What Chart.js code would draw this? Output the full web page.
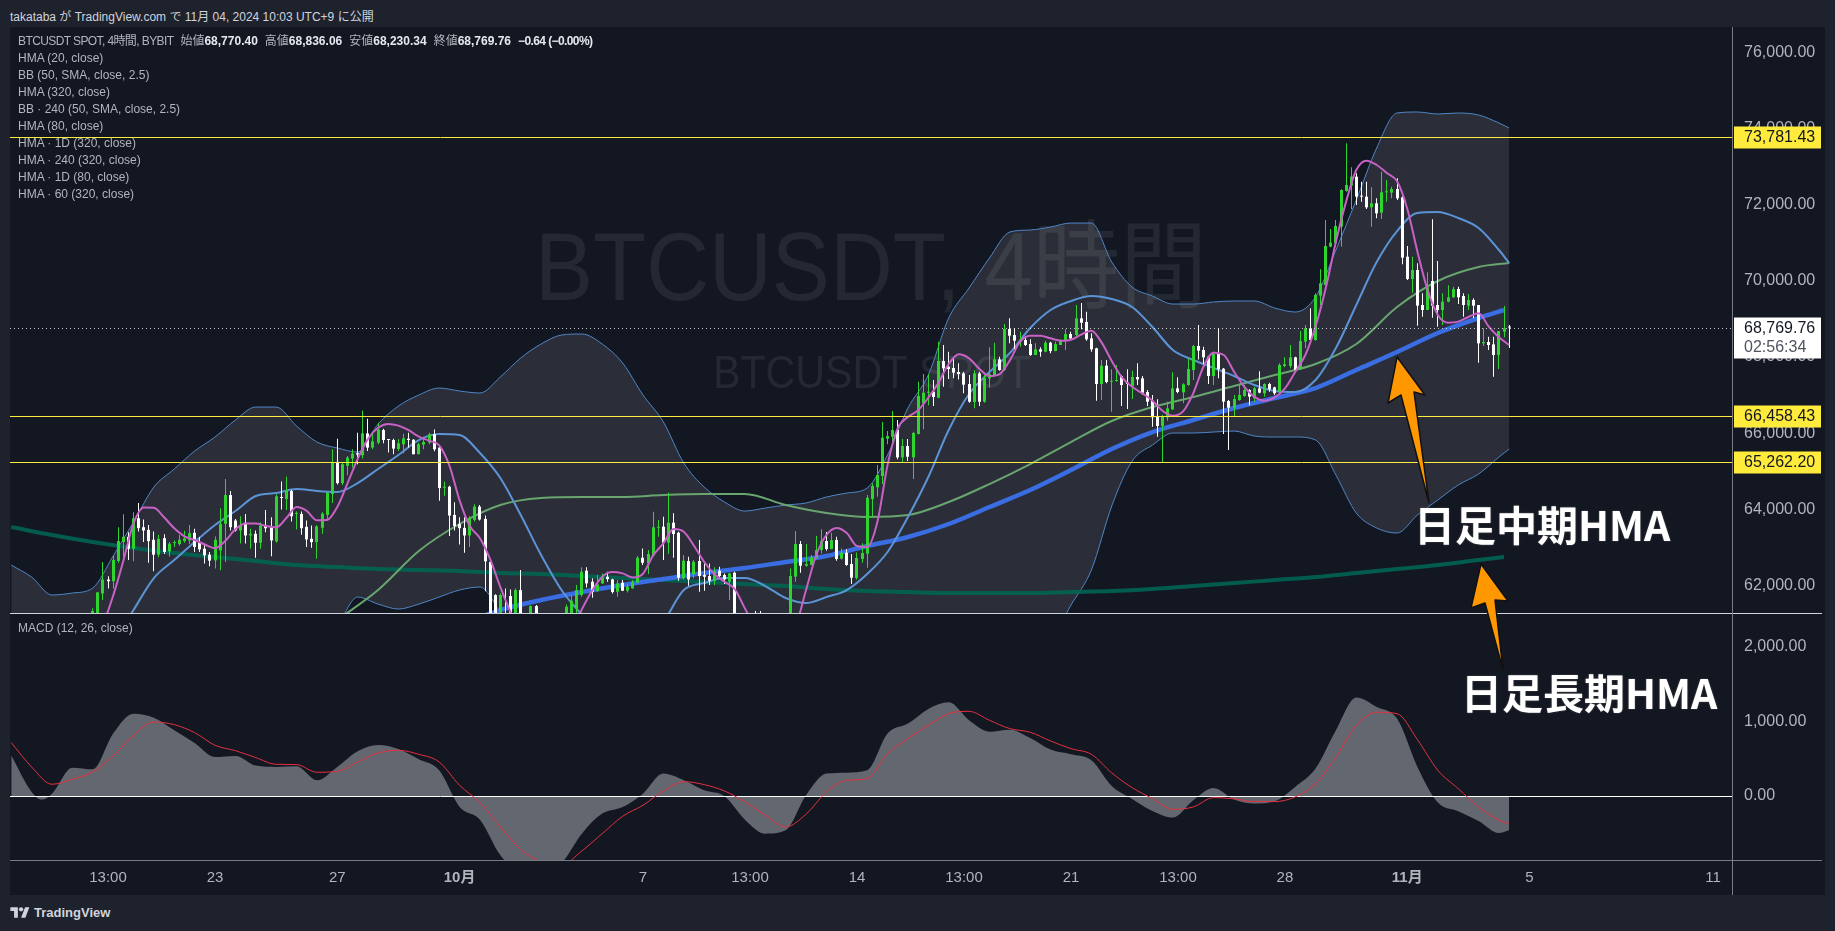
<!DOCTYPE html>
<html lang="ja">
<head>
<meta charset="utf-8">
<title>BTCUSDT 4時間</title>
<script src="https://cdn.jsdelivr.net/npm/chart.js@4/dist/chart.umd.js"></script>
<style>
  html, body { margin: 0; height: 100%; background: #1e222d; overflow: hidden; }
  body { font-family: "Liberation Sans", "Noto Sans CJK JP", sans-serif; color: #b2b5be; }
  #published { position: absolute; left: 10px; top: 7px; font-size: 12px; color: #d1d4dc; }
  #chartBox { position: absolute; left: 10px; top: 27px; width: 1815px; height: 868px; background: #131722; }
  #legend { position: absolute; left: 18px; top: 33px; font-size: 12px; line-height: 17px; color: #b2b5be; }
  #legend b { color: #e6e8ee; }
  #legend span { margin-right: 7px; }
  #legend .symbol { letter-spacing: -0.6px; }
  #legend .change { letter-spacing: -0.6px; }
  .note { position: absolute; font-family: "Noto Sans CJK JP", sans-serif; font-weight: 700; font-size: 41px; color: #fff;
          line-height: 44px; text-shadow: 0 0 2px #555; white-space: nowrap; }
  #brand { position: absolute; left: 10px; top: 905px; font-size: 13px; font-weight: 700; color: #d1d4dc; display: flex; align-items: center; gap: 4px; }
</style>
</head>
<body>
<div id="published">takataba が TradingView.com で 11月 04, 2024 10:03 UTC+9 に公開</div>
<div id="chartBox"><canvas id="priceChart" width="1815" height="868"></canvas></div>
<div id="legend">
  <div><span class="symbol">BTCUSDT SPOT, 4時間, BYBIT</span><span>始値<b>68,770.40</b></span><span>高値<b>68,836.06</b></span><span>安値<b>68,230.34</b></span><span>終値<b>68,769.76</b></span><b class="change">−0.64 (−0.00%)</b></div>
  <div>HMA (20, close)</div>
  <div>BB (50, SMA, close, 2.5)</div>
  <div>HMA (320, close)</div>
  <div>BB · 240 (50, SMA, close, 2.5)</div>
  <div>HMA (80, close)</div>
  <div>HMA · 1D (320, close)</div>
  <div>HMA · 240 (320, close)</div>
  <div>HMA · 1D (80, close)</div>
  <div>HMA · 60 (320, close)</div>
</div>
<div id="macdLegend" style="position:absolute;left:18px;top:621px;font-size:12px;color:#b2b5be">MACD (12, 26, close)</div>
<div class="note" style="left:1414px;top:501px">日足中期HMA</div>
<div class="note" style="left:1461px;top:669px">日足長期HMA</div>
<div id="brand">
  <svg width="20" height="15" viewBox="0 0 36 28"><path fill="#d1d4dc" d="M14 24H7V11H0V4h14v20zM28 24h-8l7.5-20h8L28 24z"/><circle fill="#d1d4dc" cx="20" cy="8" r="4"/></svg>
  <span>TradingView</span>
</div>

<script>
// Bars are counted in 4h steps from 23 Sep (bar 0)
// Candles, first one is bar -24, rows of ten; null = body below the visible range
const candleStart = -24;
const opens = [
  61000,61100,61790,62156,62112,62643,63139,63278,62965,63765,
  63530,63461,63200,62808,63243,62895,63113,63087,63165,63183,
  63383,63122,62965,62808,62660,62921,63618,64374,63705,63444,
  63644,63313,63357,63122,63574,63530,63156,64314,64270,64479,
  63878,63878,63539,63226,63139,63513,63852,64400,65244,64688,
  65140,65331,65471,65418,65993,65619,65749,66080,65836,65819,
  65584,65706,65853,65827,65445,65697,65749,65975,65619,64566,
  64592,63852,63618,63513,63313,63722,64070,63748,62620,61749,
  61000,61100,61723,61000,61880,null,61000,61460,null,null,
  null,null,null,61000,61100,61399,61749,62388,62099,61854,
  62055,62230,62160,61837,62073,61863,61924,62073,62729,62580,
  62791,63517,63543,63123,63648,63385,62187,62642,62292,62642,
  62274,62248,62125,62388,62274,62099,62335,null,null,null,
  61000,61000,null,null,null,null,null,61000,62231,63088,
  62519,62537,62712,62931,63167,62957,63193,62703,62861,62563,
  62196,62694,62834,64269,64576,64873,65853,65906,66081,65363,
  65660,65363,65975,66780,67060,67087,66929,67892,67743,67708,
  67603,67568,67288,66816,67568,66824,67437,67524,67935,67656,
  68732,68574,68399,68443,68338,68049,68198,68137,68373,68154,
  68312,68426,68601,68574,69012,68916,68487,68224,67288,67769,
  67349,67367,67498,67323,67236,67472,67437,67078,66842,66448,
  66186,66413,66623,67174,67069,67262,67656,68286,68181,68006,
  67498,68076,67690,66842,66667,66868,66973,67130,66912,67175,
  67044,67288,67201,67087,67761,67761,67989,67674,68400,68750,
  68443,69607,69887,70894,70981,71419,72355,72495,72731,72224,
  72206,71926,72031,71786,72320,72311,72407,72189,70631,70045,
  70281,69362,69231,69992,69362,69231,69450,69564,69782,69599,
  69345,69494,69362,68356,68391,68330,68050,68662,68770.40
];
const highs = [
  61400,61820,62617,62243,62774,63530,63870,63400,63922,64166,
  63731,63591,63417,63330,63348,63139,63183,63330,63435,63591,
  63487,63270,63069,62878,63287,64026,64792,64479,63748,63818,
  63878,63487,63444,63661,63983,63792,64392,64731,64862,64514,
  63939,63939,63705,63574,63591,63922,64461,65575,65853,65227,
  65401,65575,66010,66593,66375,65993,66271,66114,65836,65853,
  65836,65984,66010,65836,65749,65906,66010,66097,65662,64731,
  64618,64183,63792,63792,63818,64131,64113,63835,62640,61767,
  61790,61924,61898,61924,62405,null,61480,61487,null,null,
  null,null,null,61500,61749,62012,62476,62476,62187,62274,
  62318,62362,62178,62143,62143,62038,62143,62773,62974,62931,
  63937,63718,63806,64444,63893,63412,62799,62756,62668,63193,
  62580,62580,62476,62493,62318,62335,62362,null,null,null,
  61330,61330,null,null,null,null,null,62449,63429,63167,
  63088,62799,63298,63473,63403,63386,63281,62974,62948,62826,
  62869,63106,64374,64681,65162,66290,66054,66579,66343,65844,
  65844,66037,67349,67550,67550,67393,68399,68312,68137,67962,
  67831,67612,67524,67656,67612,67524,68250,68373,68006,68863,
  69012,68749,68662,68548,68461,68356,68250,68426,68399,68399,
  68461,68723,68662,69362,69414,69187,68618,68242,67918,67918,
  67673,67787,67524,67673,67638,67831,67498,67130,66999,66886,
  66474,66824,67594,67463,67306,67962,68312,68837,68268,68023,
  68137,68749,67708,66868,66999,67262,67262,67148,67218,67621,
  67306,67323,67219,67831,67989,68312,68006,68680,68837,69275,
  69669,70299,71594,71357,71594,72399,73606,72976,72819,72600,
  72600,72451,72162,72862,72644,72469,72687,72224,70911,70631,
  70456,69669,70220,71611,70517,69669,69879,69844,69844,69669,
  69651,69537,69362,68750,68531,68531,68680,69336,68836.06
];
const lows = [
  60900,61000,61617,61921,61921,62600,62721,62669,62634,63417,
  63139,62600,62373,62739,62826,62756,63009,63052,63122,63087,
  62878,62878,62574,62504,62443,62400,62617,63444,63417,63104,
  63104,62965,62730,62965,63400,62765,63122,63992,63983,63678,
  63470,63330,63009,62991,62704,63357,63705,64166,64653,64635,
  64896,65097,65183,65331,65532,65575,65706,65732,65488,65445,
  65532,65471,65619,65445,65445,65575,65706,65523,64227,64357,
  63296,63444,63078,62861,63009,63678,63705,61851,60900,61000,
  60950,60800,60900,60950,60900,null,60900,60900,null,null,
  null,null,null,60900,61000,61268,61705,61950,61679,61837,
  62038,62099,61793,61705,61854,61819,61915,62055,62537,62300,
  62773,63280,62668,62826,62729,62125,62160,61994,62187,61837,
  61863,62012,62012,62187,62038,61618,60900,null,null,null,
  60800,60800,null,null,null,null,null,60900,62099,62336,
  62493,62537,62712,62843,62913,62948,62650,62685,62519,62038,
  62160,62598,62467,63788,64330,64663,65704,65704,65311,65232,
  65267,64794,65967,66098,66728,66711,66912,67218,67419,67437,
  67410,67043,66798,66649,66711,66798,67200,67498,67638,67638,
  68355,68198,68268,68286,68032,68049,68006,68119,68093,68145,
  68312,68181,68443,68548,68723,68426,68137,66851,66868,67306,
  66562,67349,66711,66632,66894,67262,66999,66711,66168,65906,
  65232,66326,66606,67043,66781,67244,67393,67935,67743,67288,
  67262,67437,65975,65555,66448,66851,66956,66728,66824,67044,
  66956,67087,67000,67044,67726,67700,67639,67656,68225,68426,
  68426,69362,69870,70876,70964,70894,72337,71874,71987,72075,
  71882,71419,71637,71620,72075,72162,72119,70430,70019,69686,
  68820,69056,69231,69030,68794,68837,69432,69555,69389,69056,
  69231,69012,67848,68286,68181,67481,67682,68514,68230.34
];
const closes = [
  61330,61820,62156,62112,62669,63165,63278,62965,63765,63504,
  63444,63165,62808,63226,62878,63096,63139,63200,63235,63374,
  63009,62948,62791,62652,63200,63618,64374,63530,63444,63591,
  63313,63357,63122,63574,63504,63183,64340,64296,64479,63818,
  63905,63504,63209,63139,63548,63887,64435,65244,64688,65183,
  65358,65462,65436,65993,65619,65784,66097,65819,65819,65592,
  65732,65862,65819,65445,65706,65766,65966,65575,64557,64583,
  63835,63557,63504,63313,63765,64070,63731,62634,61000,61100,
  61749,60900,61000,61880,61000,null,61460,61000,null,null,
  null,null,null,61443,61600,61880,62362,62055,61837,62029,
  62213,62169,61828,62055,61863,61968,62099,62729,62598,62826,
  63526,63534,63123,63648,63350,62204,62650,62160,62624,62248,
  62230,62125,62379,62248,62160,62318,61000,null,null,null,
  60900,60900,null,null,null,null,null,62248,63088,62519,
  62563,62738,62931,63167,62957,63193,62694,62861,62537,62204,
  62721,62852,64304,64611,64899,65879,65923,66081,65363,65660,
  65380,66002,66973,67060,67087,66947,67892,67699,67682,67586,
  67550,67271,66824,67568,66824,67454,67550,67935,67656,68732,
  68557,68425,68443,68312,68049,68198,68137,68373,68154,68338,
  68426,68601,68487,69012,68898,68461,68198,67288,67769,67340,
  67376,67393,67262,67288,67472,67410,67060,66824,66413,66186,
  66431,66649,67174,67078,67279,67682,68286,68163,67988,67498,
  68076,67673,66824,66667,66894,66999,67130,66956,67174,67061,
  67288,67149,67044,67787,67805,67989,67656,68417,68750,68443,
  69625,69931,70911,70999,71436,72381,72512,72731,72206,72206,
  71926,72031,71769,72320,72337,72407,72162,70605,70045,70281,
  69345,69231,69826,69345,69231,69450,69564,69782,69564,69362,
  69494,69345,68356,68391,68312,68050,68680,68750,68769.76
];

// HMA 20, every second bar from -22
const hmaFast = [
  60945,61730,62645,63630,64050,64040,63790,63500,63290,63195,
  63075,62980,63170,63475,63630,63630,63560,63525,63770,64060,
  63960,63710,63720,64060,64680,65325,65845,66140,66240,66195,
  66075,65910,65800,65680,65150,64235,63560,63240,62690,61960,
  61300,60700,60400,60200,60150,60300,60800,61373,61863,62230,
  62353,62318,62213,62309,62791,63105,63482,63412,63044,62624,
  62300,62099,61907,61400,60900,60500,60500,60700,60960,61880,
  62800,63325,63510,63375,63035,63010,63665,65160,66130,66420,
  66600,66929,67323,67813,68067,67962,67690,67498,67550,67909,
  68399,68557,68557,68487,68426,68452,68583,68688,68382,67892,
  67463,67218,67043,66851,66579,66457,66571,67043,67743,68111,
  68049,67612,67218,66950,66851,66939,67175,67604,68050,68794,
  69800,71025,72075,72906,73151,73037,72827,72608,71891,70762,
  69756,69100,68899,68925,69047,69144,68794,68514,68312
];

// Bollinger band, every fourth bar from -40, last one is bar 254
const bbUpper = [
  62537,62222,61750,61802,61933,62773,63666,64584,65057,65529,
  65897,66343,66684,66684,66186,65766,65608,65503,66238,66711,
  67000,67183,67105,67052,67472,67971,68338,68574,68601,68338,
  67840,67000,66291,65214,64584,64191,63954,64033,64112,64165,
  64322,64427,64558,65424,66658,67525,69021,69809,70596,71278,
  71331,71409,71514,71514,70491,69834,69598,69388,69388,69441,
  69467,69467,69283,69178,69572,70806,72118,73483,74402,74428,
  74376,74402,74349,74139,74008
];
const bbMiddle = [
  60000,59900,59800,59900,60100,60500,61356,62195,62668,63141,
  63588,63954,64348,64427,64532,64479,64453,64689,65057,65424,
  65818,65976,65950,65477,64821,63849,62799,61881,61225,60568,
  60175,60437,61040,61881,62065,62195,62195,61986,61671,61539,
  61697,61881,62301,62878,63797,64847,66081,67026,67603,68102,
  68758,69231,69467,69598,69519,69310,68784,68181,67918,67708,
  67498,67262,67105,67078,67393,68233,69362,70491,71304,71777,
  71803,71646,71383,70806,70464
];
const bbLower = [
  59800,59700,59600,59500,59400,59500,59600,59700,59800,59900,
  60000,60100,60200,60300,60400,60600,60966,61697,61512,61382,
  61512,61697,61881,61959,61303,60570,60200,60000,59900,59800,
  59800,59900,60000,60100,60100,60000,59900,59900,60000,60000,
  60100,60100,60100,60100,60000,60000,60000,60100,60200,60300,
  60400,60570,61487,62406,64086,65265,65686,66002,66002,66028,
  66054,65923,65897,65897,65818,64899,63902,63509,63377,63850,
  64244,64637,64926,65372,65582
];

// Slow averages, every eighth bar, last point at the end of the line
const hma80 = [
  61094,61881,62905,63614,64112,64296,64322,64322,64375,64401,
  64401,64112,63902,63797,63849,64191,64663,65188,65766,66317,
  66684,66947,67236,67525,67813,68338,69309,69992,70359,70464
];
const hmaMid = [
  60966,61356,61618,61828,62012,62169,62327,62458,62616,62773,
  63036,63272,63614,64059,64506,65031,65582,66028,66343,66658,
  66921,67183,67656,68128,68627,69021,69231
];
const hmaLong = [
  63534,63324,63141,62983,62852,62747,62642,62537,62484,62432,
  62405,62379,62327,62301,62248,62196,62143,62091,62038,61986,
  61907,61854,61828,61802,61802,61802,61828,61854,61907,61986,
  62064,62143,62222,62327,62432,62537,62668,62747
];

// MACD pane, every fourth bar from -40, last one is bar 254
const macdLine = [
  546,54,31,380,358,837,1105,1051,881,711,
  523,537,407,389,398,210,389,600,685,631,
  492,344,-148,-318,-796,-1042,-1132,-908,-506,-237,
  -148,31,300,210,76,-4,-318,-506,-461,9,
  300,313,344,837,971,1168,1257,1016,863,890,
  778,622,559,479,134,-40,-201,-291,-58,107,
  -49,-103,-72,121,367,881,1320,1195,1038,389,
  -89,-206,-336,-497,-461
];
const macdSignal = [
  716,389,157,224,322,537,814,993,957,850,
  680,608,515,425,421,318,331,456,577,613,
  559,456,143,-89,-416,-720,-886,-926,-738,-506,
  -273,-125,67,192,152,67,-81,-259,-416,-246,
  54,210,233,568,770,948,1105,1136,1016,904,
  855,738,635,559,309,112,-36,-179,-148,-22,
  -40,-76,-76,-13,166,523,948,1123,1105,756,
  344,98,-148,-327,-376
];
// dip at the left edge falls between two of the bars above
const macdDipBar = -34, macdDipValue = -49;

// Levels and axes
const levelPrices = [73781.43, 66458.43, 65262.20];
const lastPrice = 68769.76;
const countdown = '02:56:34';
const priceTicks = [62000, 64000, 66000, 68000, 70000, 72000, 74000, 76000];
const macdTicks = [0, 1000, 2000];
const xTickBars = [-21, 0, 24, 48, 84, 105, 126, 147, 168, 189, 210, 234, 258, 294];
const xTickLabels = ['13:00', '23', '27', '10月', '7', '13:00', '14', '13:00', '21', '13:00', '28', '11月', '5', '11'];

// Visible window
const xMin = -40.24, xMax = 297.74;
const priceMin = 61278, priceMax = 76659;
const macdMin = -860, macdMax = 2456;

const UP = '#2ed52e', DOWN = '#ffffff', BG = '#131722';
const FONT = '"Liberation Sans", "Noto Sans CJK JP", sans-serif';
const fmt = (v) => v.toLocaleString('en-US', { minimumFractionDigits: 2, maximumFractionDigits: 2 });

function barGrid(from, to, step, last) {
  const out = [];
  for (let b = from; b <= to; b += step) out.push(b);
  if (last !== undefined) out.push(last);
  return out;
}
const toPoints = (bars, vals) => vals.map((y, k) => ({ x: bars[k], y }));

const bandBars = barGrid(-40, 252, 4, 254);
const candleBars = opens.map((_, k) => candleStart + k);
const wickData = [], bodyData = [], candleColors = [];
opens.forEach((o, k) => {
  if (o === null) return;
  wickData.push({ x: candleBars[k], y: [lows[k], highs[k]] });
  bodyData.push({ x: candleBars[k], y: [o, closes[k]] });
  candleColors.push(closes[k] >= o ? UP : DOWN);
});

const macdPoints = toPoints(bandBars, macdLine);
macdPoints.splice(2, 0, { x: macdDipBar, y: macdDipValue });

function lineSet(label, data, color, width, order, extra) {
  return Object.assign({
    type: 'line', label, data, borderColor: color, borderWidth: width, order,
    pointRadius: 0, yAxisID: 'y', fill: false, cubicInterpolationMode: 'monotone',
  }, extra || {});
}

const flatLine = (value) => [{ x: xMin, y: value }, { x: xMax, y: value }];
const flatOpts = { cubicInterpolationMode: 'default', snap: true };

const datasets = [
  lineSet('BB upper', toPoints(bandBars, bbUpper), '#4f86c6', 1, 20, { fill: '+1', backgroundColor: 'rgba(255,255,255,0.1)' }),
  lineSet('BB lower', toPoints(bandBars, bbLower), '#4f86c6', 1, 19),
  lineSet('HMA 1D long', toPoints(barGrid(-40, 248, 8, 253), hmaLong), 'rgba(0,105,85,0.85)', 4, 18),
  lineSet('HMA 80', toPoints(barGrid(24, 248, 8, 254), hma80), '#69a56f', 2, 17),
  lineSet('HMA 1D mid', toPoints(barGrid(48, 248, 8, 253), hmaMid), '#3a6de2', 4.5, 16),
  lineSet('BB mid', toPoints(bandBars, bbMiddle), '#5b94d6', 2, 15),
  { type: 'bar', label: 'wick', data: wickData, backgroundColor: candleColors, yAxisID: 'y', grouped: false, maxBarThickness: 1, order: 14 },
  { type: 'bar', label: 'body', data: bodyData, backgroundColor: candleColors, yAxisID: 'y', grouped: false, maxBarThickness: 3, minBarLength: 1, order: 13 },
  lineSet('HMA 20', toPoints(barGrid(-22, 254, 2), hmaFast), '#c862c6', 2, 12),
  lineSet('last', flatLine(lastPrice), 'rgba(255,255,255,0.75)', 1, 11, { ...flatOpts, borderDash: [1, 3] }),
  ...levelPrices.map((p, k) => lineSet('level ' + k, flatLine(p), '#ffeb3b', 1, 10, flatOpts)),
  lineSet('MACD', macdPoints, 'rgba(0,0,0,0)', 0, 9, { yAxisID: 'yMacd', fill: { value: 0 }, backgroundColor: '#636770' }),
  lineSet('zero', flatLine(0), '#ffffff', 1, 8, { ...flatOpts, yAxisID: 'yMacd' }),
  lineSet('Signal', toPoints(bandBars, macdSignal), '#e5303f', 1, 7, { yAxisID: 'yMacd' }),
];

// Page position minus canvas offset
const OX = 10, OY = 27;
const arrows = [
  [[1397, 357], [1425, 395], [1414, 392], [1429, 503], [1401, 395], [1388, 403]],
  [[1481, 564], [1508, 601], [1495, 600], [1503, 670], [1485, 603], [1471, 608]],
];

const panePlugin = {
  id: 'panePlugin',
  afterDatasetsUpdate(chart) {
    // keep thin candles and flat lines on whole pixels
    chart.data.datasets.forEach((d, i) => {
      const els = chart.getDatasetMeta(i).data;
      if (d.type === 'bar') els.forEach((el) => { el.x = Math.floor(el.x) + 0.5; });
      if (d.snap) els.forEach((el) => { el.y = Math.ceil(el.y) + 0.5; });
    });
  },
  beforeDatasetsDraw(chart) {
    const ctx = chart.ctx;
    ctx.save();
    ctx.fillStyle = 'rgba(255,255,255,0.075)';
    ctx.textAlign = 'center';
    ctx.textBaseline = 'middle';
    ctx.font = '96px "Liberation Sans", "Noto Sans CJK JP"';
    ctx.fillText('BTCUSDT, 4時間', 871 - OX, 274 - OY, 672);
    ctx.font = '46px "Liberation Sans", "Noto Sans CJK JP"';
    ctx.fillText('BTCUSDT SPOT', 872 - OX, 375 - OY, 318);
    ctx.restore();
  },
  beforeDatasetDraw(chart, args) {
    // band fill is only clipped to the whole chart area, wipe what ran into the MACD pane
    if (args.index !== 0) return;
    const { left, right, bottom } = chart.chartArea;
    const top = chart.scales.yMacd.top;
    chart.ctx.save();
    chart.ctx.fillStyle = BG;
    chart.ctx.fillRect(left, top, right - left, bottom - top);
    chart.ctx.restore();
  },
  afterDraw(chart) {
    const ctx = chart.ctx;
    const { right, bottom } = chart.chartArea;
    const y = chart.scales.y;
    const tagLeft = right + 2, tagW = 87;
    ctx.save();

    ctx.lineWidth = 1;
    ctx.strokeStyle = '#d1d4dc';
    ctx.beginPath();
    ctx.moveTo(0, Math.round(chart.scales.yMacd.top) + 0.5);
    ctx.lineTo(chart.width - 3, Math.round(chart.scales.yMacd.top) + 0.5);
    ctx.stroke();
    ctx.strokeStyle = '#787b86';
    ctx.beginPath();
    ctx.moveTo(0, bottom + 0.5);
    ctx.lineTo(chart.width - 3, bottom + 0.5);
    ctx.moveTo(right + 0.5, 0);
    ctx.lineTo(right + 0.5, chart.height);
    ctx.stroke();

    ctx.font = '16px ' + FONT;
    ctx.textAlign = 'left';
    ctx.textBaseline = 'middle';
    levelPrices.forEach((p) => {
      const py = Math.ceil(y.getPixelForValue(p)) + 0.5;
      ctx.fillStyle = '#ffeb3b';
      ctx.fillRect(tagLeft, py - 11, tagW, 22);
      ctx.fillStyle = '#131722';
      ctx.fillText(fmt(p), right + 12, py);
    });
    const lastY = Math.ceil(y.getPixelForValue(lastPrice)) + 0.5;
    ctx.fillStyle = '#ffffff';
    ctx.fillRect(tagLeft, lastY - 11, tagW, 41);
    ctx.fillStyle = '#131722';
    ctx.fillText(fmt(lastPrice), right + 12, lastY);
    ctx.fillStyle = '#50535e';
    ctx.fillText(countdown, right + 12, lastY + 19);

    arrows.forEach((shape) => {
      ctx.beginPath();
      shape.forEach(([px, py], k) => {
        if (k === 0) ctx.moveTo(px - OX, py - OY);
        else ctx.lineTo(px - OX, py - OY);
      });
      ctx.closePath();
      ctx.fillStyle = '#ff9800';
      ctx.strokeStyle = '#111111';
      ctx.lineWidth = 1.5;
      ctx.lineJoin = 'round';
      ctx.fill();
      ctx.stroke();
    });
    ctx.restore();
  },
};

// tick label overhang must not shrink the panes
function noMargins(axis) {
  axis.paddingTop = axis.paddingBottom = axis.paddingLeft = axis.paddingRight = 0;
}

function valueAxis(ticks, min, max, weight) {
  return {
    position: 'right', stack: 'panes', stackWeight: weight, min, max,
    grid: { display: false, drawTicks: false },
    border: { display: false },
    afterBuildTicks: (axis) => { axis.ticks = ticks.map((value) => ({ value })); },
    afterFit: (axis) => { axis.width = 93; noMargins(axis); },
    ticks: {
      autoSkip: false, padding: 12, color: '#b2b5be',
      font: { family: FONT, size: 16 },
      callback: (v) => fmt(v),
    },
  };
}

new Chart(document.getElementById('priceChart'), {
  type: 'bar',
  data: { datasets },
  options: {
    responsive: false,
    animation: false,
    events: [],
    layout: { padding: 0 },
    plugins: { legend: { display: false }, tooltip: { enabled: false } },
    scales: {
      x: {
        type: 'linear', min: xMin, max: xMax, offset: false,
        grid: { display: false, drawTicks: false, offset: false },
        border: { display: false },
        afterBuildTicks: (axis) => { axis.ticks = xTickBars.map((value) => ({ value })); },
        afterFit: (axis) => { axis.height = 35; noMargins(axis); },
        ticks: {
          autoSkip: false, maxRotation: 0, padding: 9, color: '#b2b5be',
          callback: (v) => xTickLabels[xTickBars.indexOf(v)],
          font: (c) => ({
            family: FONT, size: 15,
            weight: c.tick && String(c.tick.label).includes('月') ? 'bold' : 'normal',
          }),
        },
      },
      y: valueAxis(priceTicks, priceMin, priceMax, 586),
      yMacd: valueAxis(macdTicks, macdMin, macdMax, 247),
    },
  },
  plugins: [panePlugin],
});
</script>
</body>
</html>
